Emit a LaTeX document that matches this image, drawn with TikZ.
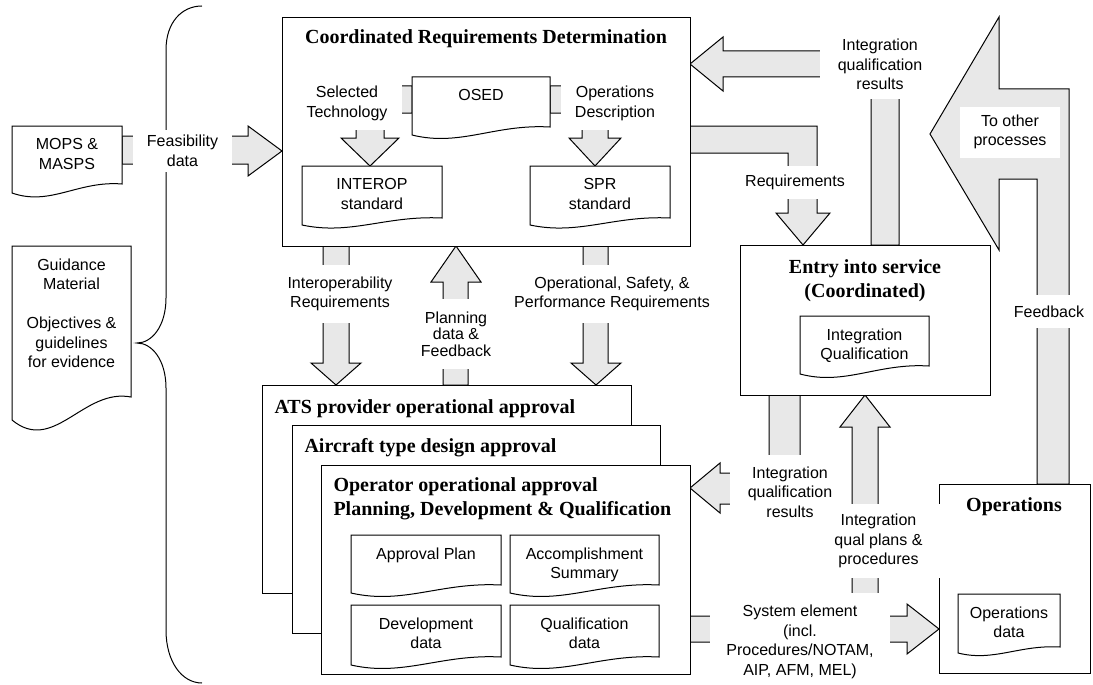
\documentclass[tikz,border=0pt]{standalone}
\usepackage{fontspec}
\newfontfamily\sansf{Liberation Sans}
\newfontfamily\seriff{Liberation Serif}
\definecolor{arrowgray}{RGB}{232,232,232}
% document symbol: name, left x, top y, right x, bottom y at right, wave depth, text
\newcommand\docnode[7]{%
  \draw[docline] (#2,#3) -- (#4,#3) -- (#4,#5)
    .. controls ({#2+0.6*(#4-#2)},{#5-0.4*#6}) and ({#2+0.35*(#4-#2)},{#5+2.5*#6}) .. (#2,{#5+#6}) -- cycle;
  \node[doctext] (#1) at ({(#2+#4)/2},{#3+12}) {#7};
}
\begin{document}
\begin{tikzpicture}[x=1pt,y=-1pt,line width=1pt,
  blk/.style={draw=black,fill=arrowgray,line join=miter},
  box/.style={draw,fill=white,inner sep=0pt},
  docline/.style={draw,fill=white},
  doctext/.style={anchor=north,inner sep=0pt,align=center,font=\sansf\fontsize{16}{19.5}\selectfont},
  ttl/.style={inner sep=0pt,font=\seriff\bfseries\fontsize{20}{23.5}\selectfont},
  lbl/.style={fill=white,inner sep=0pt,align=center,font=\sansf\fontsize{16}{19.5}\selectfont}]
\useasboundingbox (0,0) rectangle (1093,685);

% curly brace grouping the inputs
\draw (202,6) .. controls (182,6) and (166,22) .. (166,50) -- (166,298)
  .. controls (166,326) and (152,343) .. (137,343)
  .. controls (152,343) and (166,360) .. (166,388) -- (166,630)
  .. controls (166,662) and (182,683) .. (202,683);

% block arrows between the processes
\draw[blk] (122,136) -- (248,136) -- (248,126) -- (282,151) -- (248,176) -- (248,164) -- (122,164) -- cycle;
\draw[blk] (323,246) -- (323,363) -- (311,363) -- (336,385) -- (361,363) -- (349,363) -- (349,246) -- cycle;
\draw[blk] (443,385) -- (443,282) -- (431,282) -- (456,246) -- (481,282) -- (468,282) -- (468,385) -- cycle;
\draw[blk] (583,246) -- (583,363) -- (571,363) -- (596,385) -- (621,363) -- (608,363) -- (608,246) -- cycle;
\draw[blk] (690,126) -- (817,126) -- (817,213) -- (830,213) -- (803,245) -- (776,213) -- (788,213) -- (788,153) -- (690,153) -- cycle;
\draw[blk] (871,245) -- (871,77) -- (723,77) -- (723,91) -- (690,64) -- (723,37) -- (723,51) -- (899,51) -- (899,245) -- cycle;
\draw[blk] (769,395) -- (769,473) -- (720,473) -- (720,463) -- (690,488) -- (720,513) -- (720,504) -- (800,504) -- (800,395) -- cycle;
\draw[blk] (852,616) -- (852,427) -- (840,427) -- (865,395) -- (890,427) -- (878,427) -- (878,616) -- cycle;
\draw[blk] (690,616) -- (907,616) -- (907,604) -- (939,629) -- (907,654) -- (907,642) -- (690,642) -- cycle;
\draw[blk] (1037,484) -- (1037,179) -- (999,179) -- (999,250) -- (930,134) -- (999,17) -- (999,89) -- (1069,89) -- (1069,484) -- cycle;

% process boxes
\node[box,anchor=north west,minimum width=408pt,minimum height=229pt] (crd) at (282,17) {};
\node[box,anchor=north west,minimum width=250pt,minimum height=150pt] (entry) at (740,245) {};
\node[box,anchor=north west,minimum width=151pt,minimum height=189pt] (ops) at (939,484) {};
\node[box,anchor=north west,minimum width=369pt,minimum height=208pt] (ats) at (262,385) {};
\node[box,anchor=north west,minimum width=368pt,minimum height=208pt] (acft) at (292,425) {};
\node[box,anchor=north west,minimum width=369pt,minimum height=209pt] (oper) at (321,465) {};

% block arrows inside the requirements box
\draw[blk] (412,86) -- (356,86) -- (356,138) -- (341,138) -- (370,166) -- (399,138) -- (384,138) -- (384,113) -- (412,113) -- cycle;
\draw[blk] (550,86) -- (608,86) -- (608,138) -- (621,138) -- (595,166) -- (569,138) -- (582,138) -- (582,113) -- (550,113) -- cycle;

% documents
\docnode{mops}{12}{126}{122}{184}{9}{MOPS \&\\MASPS}
\docnode{guid}{12}{246}{131}{397}{23}{Guidance\\Material\\[19.5pt]Objectives \&\\guidelines\\for evidence}
\docnode{osed}{412}{77}{550}{127}{8}{OSED}
\docnode{interop}{302}{166}{442}{218}{7}{INTEROP\\standard}
\docnode{spr}{530}{166}{670}{218}{7}{SPR\\standard}
\docnode{iq}{800}{316}{929}{366}{8}{Integration\\Qualification}
\docnode{aplan}{351}{535}{501}{585}{8}{Approval Plan}
\docnode{asum}{510}{535}{659}{585}{8}{Accomplishment\\Summary}
\docnode{ddata}{351}{605}{501}{657}{8}{Development\\data}
\docnode{qdata}{510}{605}{659}{657}{8}{Qualification\\data}
\docnode{opsdata}{958}{594}{1060}{647}{6}{Operations\\data}

% box titles
\node[ttl,anchor=base] (crdT) at (486,43.5) {Coordinated Requirements Determination};
\node[ttl,anchor=north,align=center] (entryT) at (865,259.5) {Entry into service\\(Coordinated)};
\node[ttl,anchor=base] (opsT) at (1014,511) {Operations};
\node[ttl,anchor=base west] (atsT) at (274,413) {ATS provider operational approval};
\node[ttl,anchor=base west] (acftT) at (304,452) {Aircraft type design approval};
\node[ttl,anchor=north west,align=left,font=\seriff\bfseries\fontsize{20}{24}\selectfont] (operT) at (333,477.5) {Operator operational approval\\Planning, Development \& Qualification};

% flow labels
\node[lbl,minimum width=99pt,minimum height=42pt] (feas) at (182.5,151) {Feasibility\\data};
\node[lbl,minimum width=110pt,minimum height=53pt] (seltech) at (347,103.5) {Selected\\Technology};
\node[lbl,minimum width=108pt,minimum height=53pt] (opsdesc) at (615,103.5) {Operations\\Description};
\node[lbl,minimum width=120pt,minimum height=58pt] (interreq) at (340,294) {Interoperability\\Requirements};
\node[lbl,minimum width=205pt,minimum height=58pt] (ospreq) at (612,294) {Operational, Safety, \&\\Performance Requirements};
\node[lbl,minimum width=80pt,minimum height=70pt,font=\sansf\fontsize{16}{16.5}\selectfont] (plan) at (456,334) {Planning\\data \&\\Feedback};
\node[lbl,minimum width=105pt,minimum height=33pt] (reqs) at (795,182.5) {Requirements};
\node[lbl,minimum width=120pt,minimum height=69pt] (iqrtop) at (880,64.5) {Integration\\qualification\\results};
\node[lbl,minimum width=120pt,minimum height=74pt] (iqrbot) at (790,492) {Integration\\qualification\\results};
\node[lbl,minimum width=127pt,minimum height=74pt] (qplans) at (878.5,541) {Integration\\qual plans \&\\procedures};
\node[lbl,minimum width=180pt,minimum height=98pt] (syselem) at (800,642) {System element\\(incl.\\Procedures/NOTAM,\\AIP, AFM, MEL)};
\node[lbl,minimum width=100pt,minimum height=51pt] (toother) at (1010,132) {To other\\processes};
\node[lbl,minimum width=78pt,minimum height=33pt] (fback) at (1049,311.5) {Feedback};
\end{tikzpicture}
\end{document}
